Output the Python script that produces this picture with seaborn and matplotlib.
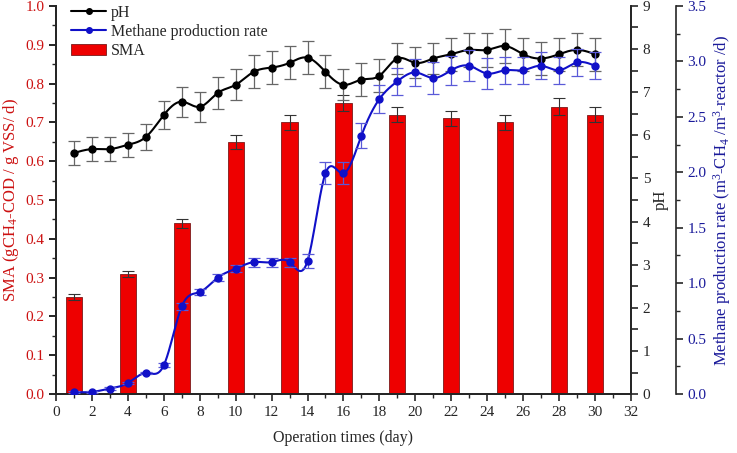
import numpy as np
import pandas as pd
import matplotlib
matplotlib.use('Agg')
import matplotlib.pyplot as plt
import seaborn as sns
from matplotlib.ticker import MultipleLocator
from matplotlib.patches import Patch
from matplotlib.lines import Line2D

# ---- data ----
sma_days = [1, 4, 7, 10, 13, 16, 19, 22, 25, 28, 30]
sma_vals = [0.25, 0.31, 0.44, 0.65, 0.70, 0.75, 0.72, 0.71, 0.70, 0.74, 0.72]
sma_err = [0.007, 0.008, 0.012, 0.018, 0.02, 0.02, 0.02, 0.02, 0.02, 0.022, 0.02]

days = list(range(1, 31))
ph_vals = [5.59, 5.68, 5.68, 5.78, 5.96, 6.47, 6.78, 6.66, 6.98, 7.17,
           7.47, 7.57, 7.68, 7.80, 7.47, 7.17, 7.29, 7.38, 7.78, 7.68,
           7.78, 7.88, 7.98, 7.98, 8.07, 7.88, 7.78, 7.88, 7.98, 7.88]
ph_err = [0.28, 0.28, 0.28, 0.28, 0.3, 0.32, 0.35, 0.35, 0.36, 0.36,
          0.38, 0.38, 0.38, 0.38, 0.38, 0.36, 0.38, 0.38, 0.36, 0.36,
          0.36, 0.38, 0.4, 0.4, 0.4, 0.38, 0.38, 0.38, 0.38, 0.38]
ch4_vals = [0.02, 0.02, 0.05, 0.10, 0.19, 0.26, 0.79, 0.92, 1.05, 1.13,
            1.19, 1.19, 1.19, 1.20, 1.99, 1.99, 2.33, 2.66, 2.82, 2.90,
            2.85, 2.92, 2.96, 2.89, 2.92, 2.92, 2.96, 2.92, 2.99, 2.96]
ch4_err = [0.01, 0.01, 0.01, 0.01, 0.01, 0.02, 0.03, 0.03, 0.03, 0.03,
           0.04, 0.04, 0.04, 0.06, 0.1, 0.1, 0.11, 0.13, 0.12, 0.12,
           0.14, 0.13, 0.14, 0.14, 0.12, 0.12, 0.12, 0.12, 0.12, 0.12]


def smooth(x, y, n=600):
    # natural cubic spline through the points (for the drawn line only)
    x = np.asarray(x, float)
    y = np.asarray(y, float)
    m = len(x)
    h = np.diff(x)
    A = np.zeros((m, m))
    b = np.zeros(m)
    A[0, 0] = A[-1, -1] = 1
    for i in range(1, m - 1):
        A[i, i - 1] = h[i - 1]
        A[i, i] = 2 * (h[i - 1] + h[i])
        A[i, i + 1] = h[i]
        b[i] = 6 * ((y[i + 1] - y[i]) / h[i] - (y[i] - y[i - 1]) / h[i - 1])
    M = np.linalg.solve(A, b)
    xs = np.linspace(x[0], x[-1], n)
    idx = np.clip(np.searchsorted(x, xs) - 1, 0, m - 2)
    x0, x1 = x[idx], x[idx + 1]
    hh = x1 - x0
    ys = (M[idx] * (x1 - xs) ** 3 / (6 * hh) + M[idx + 1] * (xs - x0) ** 3 / (6 * hh)
          + (y[idx] / hh - M[idx] * hh / 6) * (x1 - xs)
          + (y[idx + 1] / hh - M[idx + 1] * hh / 6) * (xs - x0))
    return xs, ys


sns.set_theme(style='ticks')
plt.rcParams['font.family'] = ['Liberation Serif', 'DejaVu Serif']
plt.rcParams['mathtext.fontset'] = 'custom'
plt.rcParams['mathtext.rm'] = 'Liberation Serif'
plt.rcParams['mathtext.it'] = 'Liberation Serif:italic'
plt.rcParams['font.size'] = 11

RED = '#ee0000'
BLUE = '#1010c8'
LBLUE = '#5a5ad8'
LRED = '#cc1111'
NAVY = '#1a1a9a'

fig = plt.figure(figsize=(7.37, 4.53), dpi=100)
ax = fig.add_axes([0.076, 0.130, 0.780, 0.857])

# SMA bars (width is a fraction of the 2-day minimum spacing -> 0.9 day)
sma_df = pd.DataFrame({'day': sma_days, 'SMA': sma_vals})
sns.barplot(data=sma_df, x='day', y='SMA', native_scale=True, width=0.45,
            color=RED, saturation=1, edgecolor='#7a1a1a', linewidth=0.6, ax=ax, zorder=2)
ax.errorbar(sma_days, sma_vals, yerr=sma_err, fmt='none', ecolor='#333333',
            elinewidth=0.8, capsize=4, capthick=0.8, zorder=3)

ax.set_xlim(0, 32)
ax.set_ylim(0, 1.0)
ax.xaxis.set_major_locator(MultipleLocator(2))
ax.xaxis.set_minor_locator(MultipleLocator(1))
ax.yaxis.set_major_locator(MultipleLocator(0.1))
ax.yaxis.set_minor_locator(MultipleLocator(0.05))
ax.yaxis.set_major_formatter(matplotlib.ticker.FormatStrFormatter('%.1f'))
ax.set_xlabel('Operation times (day)', fontsize=11.5, labelpad=8)
ax.set_ylabel('SMA (gCH$_4$-COD / g VSS/ d)', color=LRED, fontsize=12, labelpad=3)
ax.tick_params(axis='y', colors='black', labelcolor=LRED, labelsize=11)
ax.tick_params(axis='x', labelsize=11)
ax.tick_params(which='major', length=5, width=1.2, direction='out')
ax.tick_params(which='minor', length=3, width=1.0, direction='out')
ax.spines['top'].set_visible(False)
for s in ['left', 'bottom', 'right']:
    ax.spines[s].set_linewidth(1.2)
    ax.spines[s].set_color('black')

# pH axis
ax2 = ax.twinx()
xs, ys = smooth(days, ph_vals)
ax2.plot(xs, ys, color='black', lw=1.5, zorder=4)
ax2.errorbar(days, ph_vals, yerr=ph_err, fmt='o', color='black', ms=5,
             ecolor='#666666', elinewidth=0.9, capsize=4, capthick=0.9, zorder=5)
ax2.set_ylim(0, 9)
ax2.yaxis.set_major_locator(MultipleLocator(1))
ax2.yaxis.set_minor_locator(MultipleLocator(0.5))
ax2.set_ylabel('pH', fontsize=12, labelpad=2)
ax2.tick_params(which='major', length=5, width=1.2, labelsize=11)
ax2.tick_params(which='minor', length=5, width=1.2)
ax2.spines['top'].set_visible(False)
ax2.spines['right'].set_linewidth(1.2)

# methane axis
ax3 = ax.twinx()
ax3.spines['right'].set_position(('axes', 1.078))
xs, ys = smooth(days, ch4_vals)
ax3.plot(xs, ys, color=BLUE, lw=1.5, zorder=4)
ax3.errorbar(days, ch4_vals, yerr=ch4_err, fmt='o', color=BLUE, ms=5,
             ecolor=LBLUE, elinewidth=0.9, capsize=4, capthick=0.9, zorder=5)
ax3.set_ylim(0, 3.5)
ax3.yaxis.set_major_locator(MultipleLocator(0.5))
ax3.yaxis.set_minor_locator(MultipleLocator(0.25))
ax3.yaxis.set_major_formatter(matplotlib.ticker.FormatStrFormatter('%.1f'))
ax3.set_ylabel('Methane production rate (m$^3$-CH$_4$ /m$^3$-reactor /d)',
               color=NAVY, fontsize=12, labelpad=3)
ax3.tick_params(axis='y', labelcolor=NAVY, labelsize=11)
ax3.tick_params(which='major', length=5, width=1.2)
ax3.tick_params(which='minor', length=3, width=1.0)
ax3.spines['top'].set_visible(False)
ax3.spines['right'].set_linewidth(1.2)

handles = [Line2D([0], [0], color='black', marker='o', ms=4, lw=1.5),
           Line2D([0], [0], color=BLUE, marker='o', ms=4, lw=1.5),
           Patch(facecolor=RED, edgecolor='#7a1a1a', linewidth=0.6)]
ax3.legend(handles, ['pH', 'Methane production rate', 'SMA'], loc='upper left',
           bbox_to_anchor=(0.015, 1.02), frameon=False, fontsize=11.5,
           handlelength=2.2, handletextpad=0.3, labelspacing=0.2, borderaxespad=0)

fig.savefig('out.png', dpi=100)
